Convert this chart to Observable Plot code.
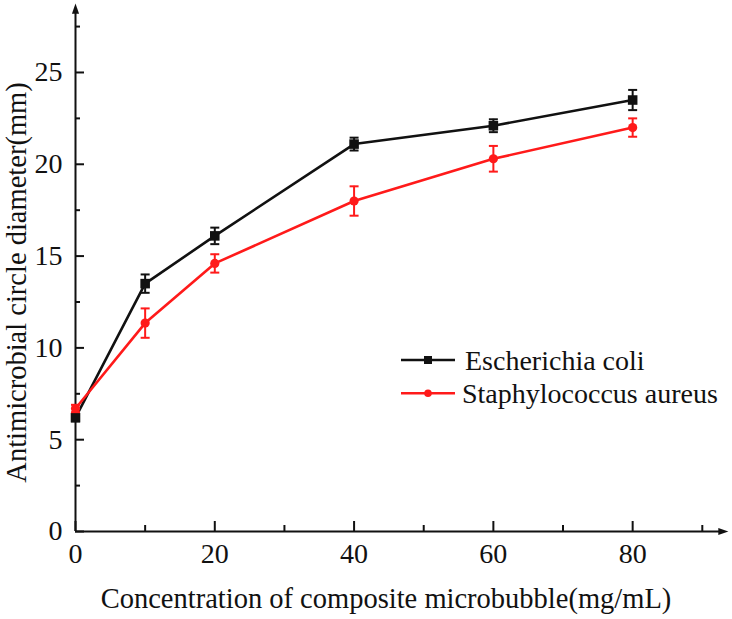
<!DOCTYPE html>
<html>
<head>
<meta charset="utf-8">
<script src="https://cdn.jsdelivr.net/npm/d3@7"></script>
<script src="https://cdn.jsdelivr.net/npm/@observablehq/plot@0.6"></script>
<style>
  html, body { margin: 0; padding: 0; background: #fff; }
  #wrap { position: relative; width: 732px; height: 619px; }
  #wrap svg { display: block; }
  #legend { position: absolute; left: 398px; top: 343px; }
</style>
</head>
<body>
<div id="wrap"></div>
<script>
// ---- data ----
const concentration = [0, 10, 20, 40, 60, 80];
const ecoliMean = [6.2, 13.5, 16.1, 21.1, 22.1, 23.5];
const ecoliErr = [0.2, 0.5, 0.45, 0.35, 0.35, 0.55];
const saureusMean = [6.7, 11.35, 14.6, 18.0, 20.3, 22.0];
const saureusErr = [0.2, 0.8, 0.5, 0.8, 0.7, 0.5];
const seriesNames = ["Escherichia coli", "Staphylococcus aureus"];
const seriesColors = ["#111111", "#ff1a1a"];
const xMajorTicks = [0, 20, 40, 60, 80];
const xMinorTicks = [10, 30, 50, 70, 90];
const yMajorTicks = [0, 5, 10, 15, 20, 25];
const yMinorTicks = [2.5, 7.5, 12.5, 17.5, 22.5, 27.5];
const xAxisMax = 92.9;
const yAxisMax = 28.43;
const xTitle = "Concentration of composite microbubble(mg/mL)";
const yTitle = "Antimicrobial circle diameter(mm)";

const font = "'Liberation Serif', 'Times New Roman', serif";

const ecoliRows = concentration.map((c, i) => ({x: c, y: ecoliMean[i], err: ecoliErr[i]}));
const saureusRows = concentration.map((c, i) => ({x: c, y: saureusMean[i], err: saureusErr[i]}));

const capSymbol = {draw(ctx, size) { const r = Math.sqrt(size / Math.PI); ctx.moveTo(-r, 0); ctx.lineTo(r, 0); }};
const arrowUp = {draw(ctx, size) { const r = Math.sqrt(size / Math.PI); ctx.moveTo(0, -r * 1.4); ctx.lineTo(r * 0.85, r); ctx.lineTo(-r * 0.85, r); ctx.closePath(); }};
const arrowRight = {draw(ctx, size) { const r = Math.sqrt(size / Math.PI); ctx.moveTo(r * 1.4, 0); ctx.lineTo(-r, r * 0.85); ctx.lineTo(-r, -r * 0.85); ctx.closePath(); }};

function seriesMarks(rows, color, symbol, r) {
  return [
    Plot.line(rows, {x: "x", y: "y", stroke: color, strokeWidth: 2.6}),
    Plot.ruleX(rows, {x: "x", y1: d => d.y - d.err, y2: d => d.y + d.err, stroke: color, strokeWidth: 2}),
    Plot.dot(rows, {x: "x", y: d => d.y + d.err, symbol: capSymbol, r: 4.5, stroke: color, fill: "none", strokeWidth: 2}),
    Plot.dot(rows, {x: "x", y: d => d.y - d.err, symbol: capSymbol, r: 4.5, stroke: color, fill: "none", strokeWidth: 2}),
    Plot.dot(rows, {x: "x", y: "y", symbol, r, fill: color, stroke: "none"})
  ];
}

const chart = Plot.plot({
  width: 732,
  height: 619,
  marginLeft: 75,
  marginRight: 10,
  marginTop: 9,
  marginBottom: 88,
  x: {domain: [0, xAxisMax]},
  y: {domain: [0, yAxisMax]},
  style: {fontFamily: font, fontSize: "28px", color: "#111", background: "#fff"},
  marks: [
    // axis lines + arrowheads
    Plot.ruleX([0], {stroke: "#111", strokeWidth: 2}),
    Plot.ruleY([0], {stroke: "#111", strokeWidth: 2}),
    Plot.dot([0], {x: 0, y: () => yAxisMax, symbol: arrowUp, r: 4.2, fill: "#111", stroke: "none"}),
    Plot.dot([0], {x: () => xAxisMax, y: 0, symbol: arrowRight, r: 4.2, fill: "#111", stroke: "none"}),
    // inward ticks
    Plot.axisX(xMajorTicks, {tickSize: 10, dy: -10, tickFormat: () => "", strokeWidth: 2, label: null}),
    Plot.axisX(xMinorTicks, {tickSize: 6, dy: -6, tickFormat: () => "", strokeWidth: 2, label: null}),
    Plot.axisY(yMajorTicks, {tickSize: 9, dx: 9, tickFormat: () => "", strokeWidth: 2, label: null}),
    Plot.axisY(yMinorTicks, {tickSize: 5, dx: 5, tickFormat: () => "", strokeWidth: 2, label: null}),
    // tick labels
    Plot.axisX(xMajorTicks, {tickSize: 0, tickPadding: 12, fontSize: 28, label: null}),
    Plot.axisY(yMajorTicks, {tickSize: 0, tickPadding: 13, fontSize: 28, label: null}),
    // titles
    Plot.text([xTitle], {text: d => d, frameAnchor: "bottom", textAnchor: "middle", dx: -13, dy: 76, fontSize: 28.5, fill: "#111"}),
    Plot.text([yTitle], {text: d => d, frameAnchor: "left", textAnchor: "middle", rotate: -90, dx: -59, dy: 12, fontSize: 28.5, fill: "#111"}),
    // series
    ...seriesMarks(ecoliRows, seriesColors[0], "square", 5.4),
    ...seriesMarks(saureusRows, seriesColors[1], "circle", 4.6)
  ]
});

const wrap = document.getElementById("wrap");
wrap.appendChild(chart);

// legend inside the plot area
const legend = d3.create("svg").attr("id", "legend").attr("width", 334).attr("height", 72)
  .style("font-family", font).style("font-size", "28px");
const rowsL = legend.selectAll("g").data(seriesNames).join("g")
  .attr("transform", (d, i) => `translate(0, ${17 + i * 33.3})`);
rowsL.append("line").attr("x1", 3).attr("x2", 57).attr("y1", 0).attr("y2", 0)
  .attr("stroke", (d, i) => seriesColors[i]).attr("stroke-width", 2.6);
rowsL.each(function(d, i) {
  const g = d3.select(this);
  if (i === 0) g.append("rect").attr("x", 26).attr("y", -4).attr("width", 8).attr("height", 8).attr("fill", seriesColors[i]);
  else g.append("circle").attr("cx", 30).attr("cy", 0).attr("r", 3.8).attr("fill", seriesColors[i]);
});
rowsL.append("text").attr("x", (d, i) => i === 0 ? 67 : 64).attr("y", 10).attr("fill", "#111").text(d => d);
wrap.appendChild(legend.node());
</script>
</body>
</html>
